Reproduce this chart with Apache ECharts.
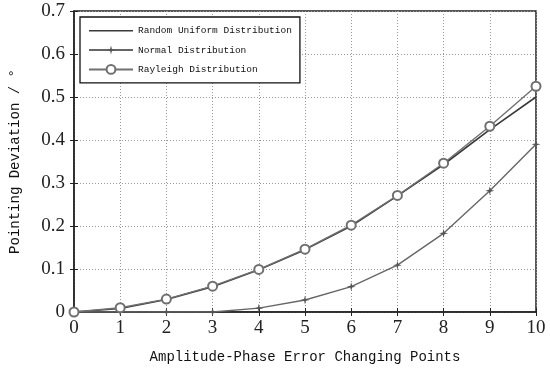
<!DOCTYPE html>
<html>
<head>
<meta charset="utf-8">
<script src="https://cdn.jsdelivr.net/npm/echarts@6/dist/echarts.min.js"></script>
<style>
  html, body { margin: 0; padding: 0; background: #fff; }
  #main { width: 550px; height: 373px; }
</style>
</head>
<body>
<div id="main"></div>
<script>
// x: number of amplitude-phase error changing points
const points = [0, 1, 2, 3, 4, 5, 6, 7, 8, 9, 10]
// pointing deviation (deg)
const uniformDev = [0, 0.008, 0.029, 0.059, 0.098, 0.145, 0.2, 0.27, 0.343, 0.424, 0.5]
const normalDev = [0, 0, 0, 0, 0.009, 0.028, 0.059, 0.109, 0.183, 0.282, 0.39]
const rayleighDev = [0, 0.01, 0.03, 0.06, 0.099, 0.146, 0.202, 0.271, 0.346, 0.432, 0.525]

const pair = arr => arr.map((v, i) => [points[i], v])

const chart = echarts.init(document.getElementById('main'))

const starPath = 'path://M0,-10 L2,-2 L10,0 L2,2 L0,10 L-2,2 L-10,0 L-2,-2 Z'
// plain line icon for the legend (tiny dots at top/bottom keep the line thin)
const lineIcon = 'path://M0,0 L0.01,0 L0.01,0.01 Z M0,5 L44,5 L44,6.6 L0,6.6 Z M0,11 L0.01,11 L0.01,10.99 Z'

chart.setOption({
  animation: false,
  backgroundColor: '#fff',
  grid: {
    left: 73, right: 14, top: 11, bottom: 61,
    show: true, borderColor: '#222', borderWidth: 1.5
  },
  legend: {
    left: 80, top: 17,
    orient: 'vertical',
    padding: [8, 8, 8, 8],
    itemGap: 9,
    itemWidth: 44,
    itemHeight: 11,
    backgroundColor: '#fff',
    borderColor: '#111',
    borderWidth: 1.3,
    borderRadius: 0,
    textStyle: { fontFamily: 'Liberation Mono', fontSize: 9.5, color: '#111' },
    data: [
      { name: 'Random Uniform Distribution', icon: lineIcon, itemStyle: { color: '#3a3a3a' } },
      'Normal Distribution',
      'Rayleigh Distribution'
    ]
  },
  xAxis: [{
    type: 'value', min: 0, max: 10, interval: 1,
    name: 'Amplitude-Phase Error Changing Points',
    nameLocation: 'middle', nameGap: 38,
    nameTextStyle: { fontFamily: 'Liberation Mono', fontSize: 14, color: '#111' },
    axisLine: { lineStyle: { color: '#222', width: 1.5 } },
    axisTick: { inside: true, length: 4, lineStyle: { color: '#222' } },
    axisLabel: { fontFamily: 'Liberation Serif', fontSize: 19, color: '#222', margin: 7 },
    splitLine: { show: true, lineStyle: { type: [1, 2], color: '#999' } }
  }, {
    type: 'value', min: 0, max: 10, interval: 1, position: 'top',
    axisLine: { show: false },
    axisTick: { inside: true, length: 4, lineStyle: { color: '#222' } },
    axisLabel: { show: false }, splitLine: { show: false }
  }],
  yAxis: [{
    type: 'value', min: 0, max: 0.7, interval: 0.1,
    name: 'Pointing Deviation / °',
    nameLocation: 'middle', nameGap: 52, nameRotate: 90,
    nameTextStyle: { fontFamily: 'Liberation Mono', fontSize: 14, color: '#111' },
    axisLine: { show: true, lineStyle: { color: '#222', width: 1.5 } },
    axisTick: { show: true, inside: true, length: 4, lineStyle: { color: '#222' } },
    axisLabel: { fontFamily: 'Liberation Serif', fontSize: 19, color: '#222', margin: 9 },
    splitLine: { show: true, lineStyle: { type: [1, 2], color: '#999' } }
  }, {
    type: 'value', min: 0, max: 0.7, interval: 0.1, position: 'right',
    axisLine: { show: false },
    axisTick: { show: true, inside: true, length: 4, lineStyle: { color: '#222' } },
    axisLabel: { show: false }, splitLine: { show: false }
  }],
  series: [
    {
      name: 'Random Uniform Distribution', type: 'line',
      data: pair(uniformDev),
      showSymbol: false, symbol: 'none',
      lineStyle: { color: '#3a3a3a', width: 1.6 },
      itemStyle: { color: '#3a3a3a' }
    },
    {
      name: 'Normal Distribution', type: 'line',
      data: pair(normalDev),
      symbol: starPath, symbolSize: 9,
      lineStyle: { color: '#666', width: 1.4 },
      itemStyle: { color: '#555' }
    },
    {
      name: 'Rayleigh Distribution', type: 'line',
      data: pair(rayleighDev),
      symbol: 'emptyCircle', symbolSize: 9,
      lineStyle: { color: '#707070', width: 1.4 },
      itemStyle: { color: '#707070', borderWidth: 1.4 }
    }
  ]
})
</script>
</body>
</html>
